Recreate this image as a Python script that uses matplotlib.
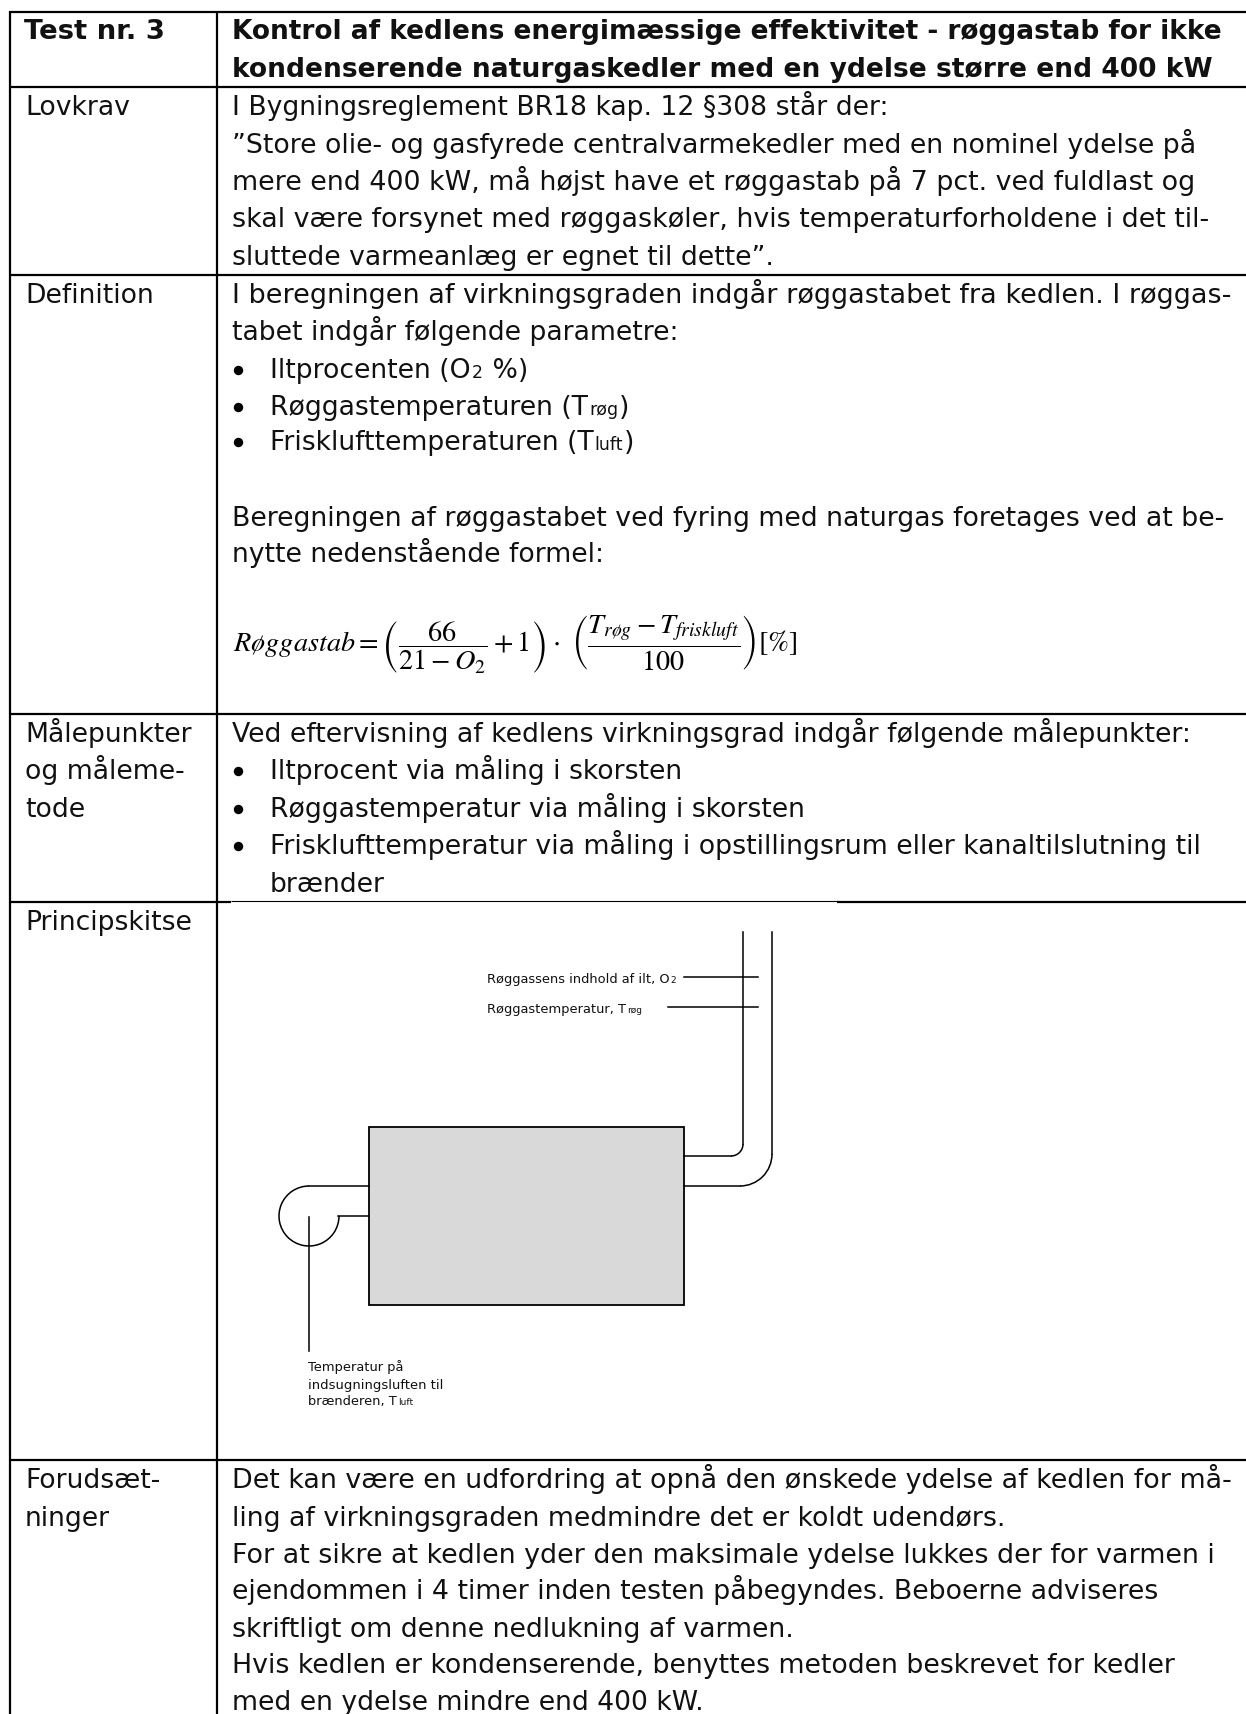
#coding=utf-8
from matplotlib import pyplot as plt
from matplotlib.patches import Rectangle, Arc

plt.rcParams['font.family'] = ['DejaVu Sans']
plt.rcParams['mathtext.fontset'] = 'stix'

W, H = 1246, 1715
FS = 19.2
SUB = 12.5
SMALL = 9.4
SMALL_SUB = 6.5

header_left = 'Test nr. 3'
header_right = ['Kontrol af kedlens energimæssige effektivitet - røggastab for ikke',
                'kondenserende naturgaskedler med en ydelse større end 400 kW']
header_ends = [1222, 1209]
left_labels = ['Lovkrav', 'Definition', 'Målepunkter', 'og måleme-', 'tode',
               'Principskitse', 'Forudsæt-', 'ninger']
left_y = [115, 303, 742, 779, 817, 930, 1488, 1526]

lovkrav = ['I Bygningsreglement BR18 kap. 12 §308 står der:',
           '”Store olie- og gasfyrede centralvarmekedler med en nominel ydelse på',
           'mere end 400 kW, må højst have et røggastab på 7 pct. ved fuldlast og',
           'skal være forsynet med røggaskøler, hvis temperaturforholdene i det til-',
           'sluttede varmeanlæg er egnet til dette”.']
lovkrav_y = [115, 153, 190, 227, 265]
lovkrav_ends = [None, 1197, 1195, 1207, None]

definition = ['I beregningen af virkningsgraden indgår røggastabet fra kedlen. I røggas-',
              'tabet indgår følgende parametre:']
definition_y = [303, 340]
definition_ends = [1226, None]
beregning = ['Beregningen af røggastabet ved fyring med naturgas foretages ved at be-',
             'nytte nedenstående formel:']
beregning_y = [526, 562]
beregning_ends = [1225, None]

maale_intro = 'Ved eftervisning af kedlens virkningsgrad indgår følgende målepunkter:'
maale_bullets = ['Iltprocent via måling i skorsten',
                 'Røggastemperatur via måling i skorsten',
                 'Frisklufttemperatur via måling i opstillingsrum eller kanaltilslutning til',
                 'brænder']
maale_y = [779, 817, 854, 892]
maale_ends = [None, 805, 1203, None]

forudsaet = ['Det kan være en udfordring at opnå den ønskede ydelse af kedlen for må-',
             'ling af virkningsgraden medmindre det er koldt udendørs.',
             'For at sikre at kedlen yder den maksimale ydelse lukkes der for varmen i',
             'ejendommen i 4 timer inden testen påbegyndes. Beboerne adviseres',
             'skriftligt om denne nedlukning af varmen.',
             'Hvis kedlen er kondenserende, benyttes metoden beskrevet for kedler',
             'med en ydelse mindre end 400 kW.']
forudsaet_y = [1488, 1526, 1563, 1599, 1637, 1673, 1710]
forudsaet_ends = [1231, 1007, 1214, 1158, 793, 1178, None]

formula = (r'$R\o ggastab=\left(\dfrac{66}{21-O_2}+1\right)\cdot\ '
           r'\left(\dfrac{T_{r\o g}-T_{friskluft}}{100}\right)[\%]$')

fig = plt.figure(figsize=(W / 100, H / 100), dpi=100)
ax = fig.add_axes([0, 0, 1, 1])
ax.set_xlim(0, W)
ax.set_ylim(H, 0)
ax.axis('off')
rend = fig.canvas.get_renderer()


def put(x, y, s, size=FS, end=None, **kw):
    # end = right edge of the line in the picture, the size is nudged to reach it
    t = ax.text(x, y, s, fontsize=size, va='baseline', ha='left', color='#111111', **kw)
    if end is not None:
        box = t.get_window_extent(rend)
        t.set_fontsize(size * (end - x) / (box.x1 - box.x0))
    return t


def runs(x, y, parts):
    # text with a smaller subscript part, placed one after the other
    for s, size in parts:
        t = put(x, y, s, size)
        x = t.get_window_extent(rend).x1 + 1


# table lines
for y in [12.5, 88, 276, 715, 1461]:
    ax.plot([9, W], [y, y], c='k', lw=1.6, solid_capstyle='butt')
ax.plot([9, 231], [903, 903], c='k', lw=1.6, solid_capstyle='butt')
ax.plot([231, 837], [902, 902], c='k', lw=0.8, solid_capstyle='butt')
ax.plot([837, W], [903, 903], c='k', lw=1.6, solid_capstyle='butt')
ax.plot([10, 10], [12, H], c='k', lw=1.6, solid_capstyle='butt')
ax.plot([217, 217], [12, H], c='k', lw=1.6, solid_capstyle='butt')

# text
put(24, 39, header_left, FS, end=165, fontweight='bold')
for y, s, e in zip([39, 77], header_right, header_ends):
    put(232, y, s, FS, end=e, fontweight='bold')
for y, s in zip(left_y, left_labels):
    put(25, y, s)
for y, s, e in zip(lovkrav_y, lovkrav, lovkrav_ends):
    put(232, y, s, end=e)
for y, s, e in zip(definition_y, definition, definition_ends):
    put(232, y, s, end=e)
for y, s, e in zip(beregning_y, beregning, beregning_ends):
    put(232, y, s, end=e)
put(232, 742, maale_intro, end=1192)
for y, s, e in zip(forudsaet_y, forudsaet, forudsaet_ends):
    put(232, y, s, end=e)

# bullets
bullet_y = [378, 415, 450] + maale_y[:3]
ax.scatter([237.5] * len(bullet_y), [y - 7 for y in bullet_y], s=46, c='k', linewidths=0)
for y, s, e in zip(maale_y, maale_bullets, maale_ends):
    put(270, y, s, end=e)
runs(270, 378, [('Iltprocenten (O', FS), ('2', SUB), (' %)', FS)])
runs(270, 415, [('Røggastemperaturen (T', FS), ('røg', SUB), (')', FS)])
runs(270, 450, [('Frisklufttemperaturen (T', FS), ('luft', SUB), (')', FS)])

t = put(233, 645, formula, 18, end=799)
t.set_verticalalignment('center')
t.set_color('k')

# sketch
ax.add_patch(Rectangle((369, 1128), 315, 178, fc='#d9d9d9', ec='k', lw=1.3))
line_kw = dict(c='k', lw=1.1)
ax.plot([743, 743], [933, 1145], **line_kw)
ax.add_patch(Arc((731, 1145), 24, 24, theta1=0, theta2=90, ec='k', lw=1.1))
ax.plot([731, 684], [1157, 1157], **line_kw)
ax.plot([772, 772], [933, 1155], **line_kw)
ax.add_patch(Arc((740, 1155), 64, 64, theta1=0, theta2=90, ec='k', lw=1.1))
ax.plot([740, 684], [1187, 1187], **line_kw)
ax.plot([684, 758], [978, 978], **line_kw)
ax.plot([668, 758], [1008, 1008], **line_kw)
ax.plot([369, 309], [1187, 1187], **line_kw)
ax.plot([369, 338], [1217, 1217], **line_kw)
ax.add_patch(Arc((309, 1217), 60, 60, theta1=0, theta2=270, ec='k', lw=1.1))
ax.plot([309, 309], [1218, 1352], **line_kw)

runs(487, 983, [('Røggassens indhold af ilt, O', SMALL), ('2', SMALL_SUB)])
runs(487, 1013, [('Røggastemperatur, T', SMALL), ('røg', SMALL_SUB)])
put(308, 1371, 'Temperatur på', SMALL)
put(308, 1389, 'indsugningsluften til', SMALL, end=442)
runs(308, 1405, [('brænderen, T', SMALL), ('luft', SMALL_SUB)])

fig.savefig('out.png', dpi=100)
